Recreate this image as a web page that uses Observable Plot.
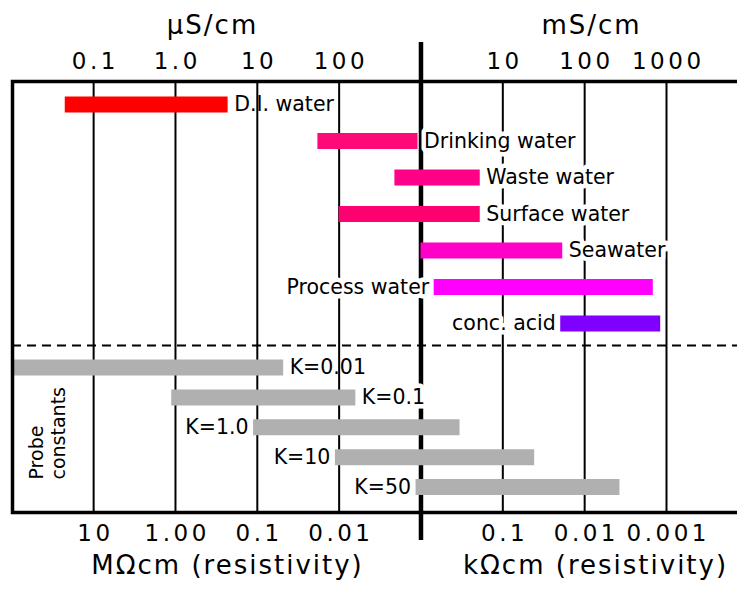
<!DOCTYPE html>
<html><head><meta charset="utf-8">
<script src="https://cdn.jsdelivr.net/npm/d3@7"></script>
<script src="https://cdn.jsdelivr.net/npm/@observablehq/plot@0.6"></script>
<style>body{margin:0;background:#fff}#chart svg{display:block}</style>
</head><body><div id="chart"></div>
<script>
// Conductivity ranges in µS/cm
const categories = ["D.I. water","Drinking water","Waste water","Surface water","Seawater","Process water","conc. acid","K=0.01","K=0.1","K=1.0","K=10","K=50"];
const lowValues  = [0.045, 55, 480, 100, 1000, 1450, 51000, 0.01, 0.9, 9, 90, 870];
const highValues = [4.4, 920, 5300, 5300, 54000, 690000, 850000, 21, 160, 3000, 24500, 270000];
const barColors  = ["#ff0000","#ff0877","#ff0088","#ff0070","#ff00c8","#ff00ff","#7f00ff","#b0b0b0","#b0b0b0","#b0b0b0","#b0b0b0","#b0b0b0"];
const labelSide  = ["right","right","right","right","right","left","left","right","right","left","left","left"];
const labelHalo  = [false,true,true,true,true,true,true,false,true,false,false,false];
const tickValues = [0.1, 1, 10, 100, 1e4, 1e5, 1e6];
const topTickLabels    = ["0.1","1.0","10","100","10","100","1000"];
const bottomTickLabels = ["10","1.00","0.1","0.01","0.1","0.01","0.001"];
const unitBoundary = 1000;      // 1000 µS/cm = 1 mS/cm
const groupDivider = 6.5;       // between samples and probe constants

const rows = categories.map((c, i) => ({
  cat: c, row: i, lo: lowValues[i], hi: highValues[i],
  color: barColors[i], side: labelSide[i], halo: labelHalo[i]
}));

function labels(side, halo) {
  const sub = rows.filter(d => d.side === side && d.halo === halo);
  return Plot.text(sub, {
    x: side === "right" ? "hi" : "lo", y: "row", text: "cat",
    textAnchor: side === "right" ? "start" : "end",
    lineAnchor: "middle",
    dx: side === "right" ? 6 : -5,
    fontSize: 20.5,
    fill: "black",
    ...(halo ? {stroke: "white", strokeWidth: 9, paintOrder: "stroke", strokeLinejoin: "round"} : {})
  });
}

const chart = Plot.plot({
  width: 737,
  height: 590,
  marginLeft: 12,
  marginRight: -2,
  marginTop: 81,
  marginBottom: 78,
  style: {fontFamily: "'DejaVu Sans', Verdana, sans-serif", background: "white", color: "black"},
  x: {type: "log", domain: [0.0102, 7.8e6], axis: null},
  y: {type: "linear", domain: [0, 6, 7, 11], range: [104, 323, 367, 486.5], axis: null},
  color: {type: "identity"},
  marks: [
    Plot.ruleX(tickValues, {x: d => d, stroke: "black", strokeWidth: 2}),
    Plot.ruleX([unitBoundary], {x: d => d, stroke: "black", strokeWidth: 4.5, insetTop: -39, insetBottom: -28}),
    Plot.ruleY([groupDivider], {y: d => d, stroke: "black", strokeWidth: 2, strokeDasharray: "9,6"}),
    labels("right", true), labels("left", true), labels("right", false), labels("left", false),
    Plot.ruleY(rows, {y: "row", x1: "lo", x2: "hi", stroke: "color", strokeWidth: 16}),
    Plot.frame({stroke: "black", strokeWidth: 3.5}),
    Plot.text(tickValues, {x: d => d, text: (d, i) => topTickLabels[i], frameAnchor: "top",
      textAnchor: "middle", lineAnchor: "bottom", dy: -13, dx: 1.75, fontSize: 23, ariaDescription: "tick-spaced"}),
    Plot.text(tickValues, {x: d => d, text: (d, i) => bottomTickLabels[i], frameAnchor: "bottom",
      textAnchor: "middle", lineAnchor: "bottom", dy: 28, dx: 1.75, fontSize: 23, ariaDescription: "tick-spaced"}),
    Plot.text(["µS/cm"], {frameAnchor: "top-left", textAnchor: "middle", lineAnchor: "bottom",
      dx: 200, dy: -48, fontSize: 26, ariaDescription: "title-spaced"}),
    Plot.text(["mS/cm"], {frameAnchor: "top-left", textAnchor: "middle", lineAnchor: "bottom",
      dx: 579, dy: -48, fontSize: 26, ariaDescription: "title-spaced"}),
    Plot.text(["MΩcm (resistivity)"], {frameAnchor: "bottom-left", textAnchor: "middle", lineAnchor: "bottom",
      dx: 215, dy: 61, fontSize: 26, ariaDescription: "title-spaced"}),
    Plot.text(["kΩcm (resistivity)"], {frameAnchor: "bottom-left", textAnchor: "middle", lineAnchor: "bottom",
      dx: 583, dy: 61, fontSize: 26, ariaDescription: "title-spaced"}),
    Plot.text(["Probe\nconstants"], {frameAnchor: "bottom-left", textAnchor: "start", lineAnchor: "bottom",
      rotate: -90, dx: 52, dy: -33, fontSize: 19, lineHeight: 1.12})
  ]
});

d3.select(chart).selectAll('g[aria-description="tick-spaced"] text').style("letter-spacing", "3.5px");
d3.select(chart).selectAll('g[aria-description="title-spaced"] text').style("letter-spacing", "2px");
document.getElementById("chart").appendChild(chart);
</script>
</body></html>
